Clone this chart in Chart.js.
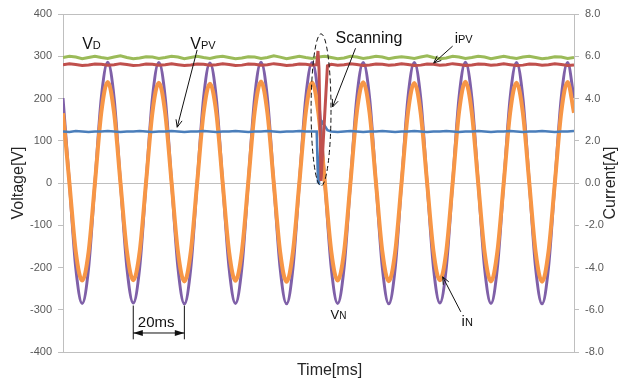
<!DOCTYPE html>
<html>
<head>
<meta charset="utf-8">
<script src="https://cdn.jsdelivr.net/npm/chart.js@4.4.1/dist/chart.umd.min.js"></script>
<style>
  html, body { margin: 0; padding: 0; background: #fff; }
  #wrap { width: 629px; height: 383px; }
</style>
</head>
<body>
<div id="wrap"><canvas id="scopeChart" width="629" height="383"></canvas></div>
<script>
// time base of the AC traces, ms
const acTime = [0, 2.5, 5, 7.5, 10, 12.5, 15, 17.5, 20, 22.5, 25, 27.5, 30, 32.5, 35, 37.5, 40, 42.5, 45, 47.5,
    50, 52.5, 55, 57.5, 60, 62.5, 65, 67.5, 70, 72.5, 75, 77.5, 80, 82.5, 85, 87.5, 90, 92.5, 95, 97.5,
    100, 102.5, 105, 107.5, 110, 112.5, 115, 117.5, 120, 122.5, 125, 127.5, 130, 132.5, 135, 137.5, 140, 142.5, 145, 147.5,
    150, 152.5, 155, 157.5, 160, 162.5, 165, 167.5, 170, 172.5, 175, 177.5, 180, 182.5, 185, 187.5, 190, 192.5, 195, 197.5, 200];

// grid voltage vN [V]
const vN = [201, 0, -201, -285, -202, 1, 202, 286, 201, 0, -200, -284, -201, 0, 201, 285,
    202, 1, -201, -286, -202, 0, 200, 284, 201, 0, -201, -285, -201, 0, 202, 286,
    201, -1, -202, -286, -201, 0, 201, 285, 200, 0, -201, -285, -201, 1, 202, 285,
    201, 0, -201, -286, -202, 0, 201, 285, 201, 0, -200, -284, -201, 0, 202, 286,
    202, 1, -201, -285, -201, 0, 201, 285, 201, 0, -202, -286, -201, 0, 201, 285, 201];

// grid current iN [A]
const iN = [3.30, 0.02, -3.25, -4.62, -3.28, 0.00, 3.35, 4.78, 3.32, 0.00, -3.22, -4.60, -3.26, 0.03, 3.34, 4.74,
    3.31, 0.01, -3.27, -4.66, -3.27, 0.00, 3.30, 4.70, 3.33, 0.00, -3.25, -4.63, -3.25, 0.02, 3.36, 4.80,
    3.32, -0.01, -3.28, -4.68, -3.26, 0.00, 3.33, 4.76, 3.28, 0.00, -3.24, -4.62, -3.27, 0.01, 3.35, 4.77,
    3.31, 0.00, -3.26, -4.65, -3.28, 0.00, 3.32, 4.73, 3.30, 0.02, -3.23, -4.60, -3.25, 0.00, 3.36, 4.79,
    3.33, 0.00, -3.27, -4.66, -3.26, 0.01, 3.33, 4.75, 3.31, 0.00, -3.28, -4.67, -3.27, 0.00, 3.34, 4.78, 3.32];

// dc link voltage vD [V]
const vD = [297, 300, 298, 294, 297, 300, 297, 295, 298, 301, 297, 294, 296, 299, 298, 295,
    297, 300, 298, 294, 297, 300, 297, 295, 298, 300, 297, 294, 296, 299, 298, 295,
    297, 301, 298, 294, 297, 300, 297, 295, 298, 300, 297, 294, 296, 300, 298, 295,
    297, 300, 298, 294, 297, 299, 297, 295, 298, 301, 297, 294, 296, 300, 298, 295,
    297, 300, 298, 294, 297, 300, 297, 295, 298, 300, 297, 294, 296, 299, 298, 295, 297];

// time base of the PV traces, with the MPPT scan around 100 ms
const pvTime = [0, 2.5, 5, 7.5, 10, 12.5, 15, 17.5, 20, 22.5, 25, 27.5, 30, 32.5, 35, 37.5, 40, 42.5, 45, 47.5,
    50, 52.5, 55, 57.5, 60, 62.5, 65, 67.5, 70, 72.5, 75, 77.5, 80, 82.5, 85, 87.5, 90, 92.5, 95, 97.5,
    99.3, 99.8, 100.2, 101.0, 101.5, 103.5,
    105, 107.5, 110, 112.5, 115, 117.5, 120, 122.5, 125, 127.5, 130, 132.5, 135, 137.5, 140, 142.5, 145, 147.5,
    150, 152.5, 155, 157.5, 160, 162.5, 165, 167.5, 170, 172.5, 175, 177.5, 180, 182.5, 185, 187.5, 190, 192.5, 195, 197.5, 200];

// PV current iPV [A]
const iPV = [5.60, 5.64, 5.61, 5.56, 5.59, 5.63, 5.62, 5.57, 5.60, 5.65, 5.61, 5.56, 5.58, 5.63, 5.62, 5.57,
    5.60, 5.64, 5.60, 5.56, 5.59, 5.63, 5.62, 5.57, 5.60, 5.64, 5.61, 5.56, 5.58, 5.63, 5.62, 5.57,
    5.60, 5.65, 5.61, 5.56, 5.59, 5.63, 5.62, 5.58,
    5.60, 6.25, 5.40, 0.10, 1.20, 5.55,
    5.62, 5.58, 5.60, 5.64, 5.61, 5.56, 5.59, 5.63, 5.62, 5.57, 5.60, 5.64, 5.61, 5.56, 5.58,
    5.63, 5.62, 5.57, 5.60, 5.65, 5.61, 5.56, 5.59, 5.63, 5.62, 5.57, 5.60, 5.64, 5.60, 5.56, 5.58,
    5.63, 5.62, 5.57, 5.60, 5.64, 5.61, 5.56, 5.59];

// PV voltage vPV [V]
const vPV = [122, 121, 123, 122, 121, 122, 122, 123, 122, 121, 122, 122, 123, 122, 121, 122,
    122, 123, 122, 121, 122, 122, 123, 122, 121, 122, 122, 123, 122, 121, 122, 122,
    123, 122, 121, 122, 122, 123, 122, 122,
    122, 2, 0, 148, 145, 125,
    122, 121, 122, 123, 122, 121, 122, 122, 123, 122, 121, 122, 122, 123, 122,
    121, 122, 122, 123, 122, 121, 122, 122, 123, 122, 121, 122, 122, 123, 122, 121,
    122, 122, 123, 122, 121, 122, 122, 123];

const FONT = '"Liberation Sans", Arial, sans-serif';

function pts(t, v) {
    return t.map((x, i) => ({ x: x, y: v[i] }));
}

// labels placed in data units (ms, V)
const notes = [
    { main: 'V', sub: 'D', t: 7.5, v: 317, size: 16, subSize: 11 },
    { main: 'V', sub: 'PV', t: 49.8, v: 317, size: 16, subSize: 11 },
    { main: 'Scanning', sub: '', t: 106.7, v: 331, size: 16, subSize: 11 },
    { main: 'i', sub: 'PV', t: 153.3, v: 331, size: 15, subSize: 11 },
    { main: 'V', sub: 'N', t: 104.7, v: -322, size: 13, subSize: 10 },
    { main: 'i', sub: 'N', t: 156, v: -338, size: 15, subSize: 11 },
    { main: '20ms', sub: '', t: 29.3, v: -341, size: 15, subSize: 11 }
];

const arrows = [
    { t1: 52.5, v1: 315, t2: 44.7, v2: 132 },
    { t1: 114.5, v1: 319, t2: 105.5, v2: 180 },
    { t1: 152.5, v1: 324, t2: 145.1, v2: 284 },
    { t1: 155.7, v1: -305, t2: 148.6, v2: -222 }
];

function openHead(ctx, x1, y1, x2, y2) {
    const a = Math.atan2(y2 - y1, x2 - x1);
    const len = 8, spread = 0.4;
    ctx.beginPath();
    ctx.moveTo(x2 - len * Math.cos(a - spread), y2 - len * Math.sin(a - spread));
    ctx.lineTo(x2, y2);
    ctx.lineTo(x2 - len * Math.cos(a + spread), y2 - len * Math.sin(a + spread));
    ctx.stroke();
}

function solidHead(ctx, x1, y1, x2, y2) {
    const a = Math.atan2(y2 - y1, x2 - x1);
    const len = 10, spread = 0.3;
    ctx.beginPath();
    ctx.moveTo(x2, y2);
    ctx.lineTo(x2 - len * Math.cos(a - spread), y2 - len * Math.sin(a - spread));
    ctx.lineTo(x2 - len * Math.cos(a + spread), y2 - len * Math.sin(a + spread));
    ctx.closePath();
    ctx.fill();
}

const notesPlugin = {
    id: 'notes',
    afterDraw(chart) {
        const { ctx, chartArea } = chart;
        const xs = chart.scales.x, ys = chart.scales.y;
        const px = t => xs.getPixelForValue(t);
        const py = v => ys.getPixelForValue(v);

        ctx.save();
        ctx.fillStyle = '#111';
        ctx.strokeStyle = '#111';
        ctx.textBaseline = 'alphabetic';
        ctx.textAlign = 'left';

        notes.forEach(n => {
            ctx.font = n.size + 'px ' + FONT;
            const x = px(n.t), y = py(n.v);
            ctx.fillText(n.main, x, y);
            if (n.sub) {
                const w = ctx.measureText(n.main).width;
                ctx.font = n.subSize + 'px ' + FONT;
                ctx.fillText(n.sub, x + w, y);
            }
        });

        ctx.lineWidth = 1;
        arrows.forEach(a => {
            const x1 = px(a.t1), y1 = py(a.v1), x2 = px(a.t2), y2 = py(a.v2);
            ctx.beginPath();
            ctx.moveTo(x1, y1);
            ctx.lineTo(x2, y2);
            ctx.stroke();
            openHead(ctx, x1, y1, x2, y2);
        });

        // 20 ms period marker
        const xa = px(27.5), xb = px(47.5);
        ctx.beginPath();
        ctx.moveTo(xa, py(-290)); ctx.lineTo(xa, py(-370));
        ctx.moveTo(xb, py(-290)); ctx.lineTo(xb, py(-370));
        const ym = py(-355);
        ctx.moveTo(xa, ym); ctx.lineTo(xb, ym);
        ctx.stroke();
        solidHead(ctx, xb, ym, xa, ym);
        solidHead(ctx, xa, ym, xb, ym);

        // dashed ring round the scan
        const cx = px(101), cy = py(173);
        const rx = px(101 + 3.9) - cx, ry = cy - py(173 + 180);
        ctx.setLineDash([5, 3]);
        ctx.beginPath();
        ctx.ellipse(cx, cy, rx, ry, 0, 0, Math.PI * 2);
        ctx.stroke();
        ctx.setLineDash([]);

        // axis titles
        ctx.fillStyle = '#262626';
        ctx.font = '16px ' + FONT;
        ctx.textAlign = 'center';
        ctx.textBaseline = 'middle';
        const midY = (chartArea.top + chartArea.bottom) / 2;
        ctx.save();
        ctx.translate(chartArea.left - 44, midY);
        ctx.rotate(-Math.PI / 2);
        ctx.fillText('Voltage[V]', 0, 0);
        ctx.restore();
        ctx.save();
        ctx.translate(chartArea.right + 37, midY);
        ctx.rotate(-Math.PI / 2);
        ctx.fillText('Current[A]', 0, 0);
        ctx.restore();
        ctx.fillText('Time[ms]', (chartArea.left + chartArea.right) / 2 + 11, chartArea.bottom + 19);

        ctx.restore();
    }
};

const axisGray = '#BFBFBF';
const edgeLines = [400, 0, -400];

const ctx = document.getElementById('scopeChart').getContext('2d');
const scopeChart = new Chart(ctx, {
    type: 'line',
    data: {
        datasets: [
            { label: 'iPV', data: pts(pvTime, iPV), yAxisID: 'y1', borderColor: '#C0504D', borderWidth: 3, tension: 0, order: 1 },
            { label: 'VD', data: pts(acTime, vD), yAxisID: 'y', borderColor: '#9BBB59', borderWidth: 3, tension: 0, order: 2 },
            { label: 'VPV', data: pts(pvTime, vPV), yAxisID: 'y', borderColor: '#4A7EBB', borderWidth: 2.5, tension: 0, order: 3 },
            { label: 'iN', data: pts(acTime, iN), yAxisID: 'y1', borderColor: '#F79646', borderWidth: 4, cubicInterpolationMode: 'monotone', order: 4 },
            { label: 'VN', data: pts(acTime, vN), yAxisID: 'y', borderColor: '#7F60A8', borderWidth: 3, cubicInterpolationMode: 'monotone', order: 5 }
        ]
    },
    options: {
        responsive: false,
        animation: false,
        devicePixelRatio: 1,
        layout: { padding: { top: 14, left: 0, right: 0, bottom: 0 } },
        elements: { point: { radius: 0 } },
        plugins: {
            legend: { display: false },
            tooltip: { enabled: false }
        },
        scales: {
            x: {
                type: 'linear',
                min: 0,
                max: 200,
                ticks: { display: false },
                grid: { display: false },
                border: { display: true, color: axisGray },
                afterFit: s => { s.height = 31; }
            },
            y: {
                position: 'left',
                min: -400,
                max: 400,
                ticks: { stepSize: 100, color: '#595959', padding: 6, font: { family: FONT, size: 11 } },
                grid: {
                    color: c => (c.tick && edgeLines.includes(c.tick.value)) ? axisGray : 'rgba(0,0,0,0)',
                    tickColor: axisGray,
                    tickLength: 5
                },
                border: { display: true, color: axisGray },
                afterFit: s => { s.width = 63; }
            },
            y1: {
                position: 'right',
                min: -8,
                max: 8,
                ticks: { stepSize: 2, color: '#595959', padding: 6, font: { family: FONT, size: 11 }, callback: v => v.toFixed(1) },
                grid: { drawOnChartArea: false, color: axisGray, tickLength: 5 },
                border: { display: true, color: axisGray },
                afterFit: s => { s.width = 55; }
            }
        }
    },
    plugins: [notesPlugin]
});
</script>
</body>
</html>
